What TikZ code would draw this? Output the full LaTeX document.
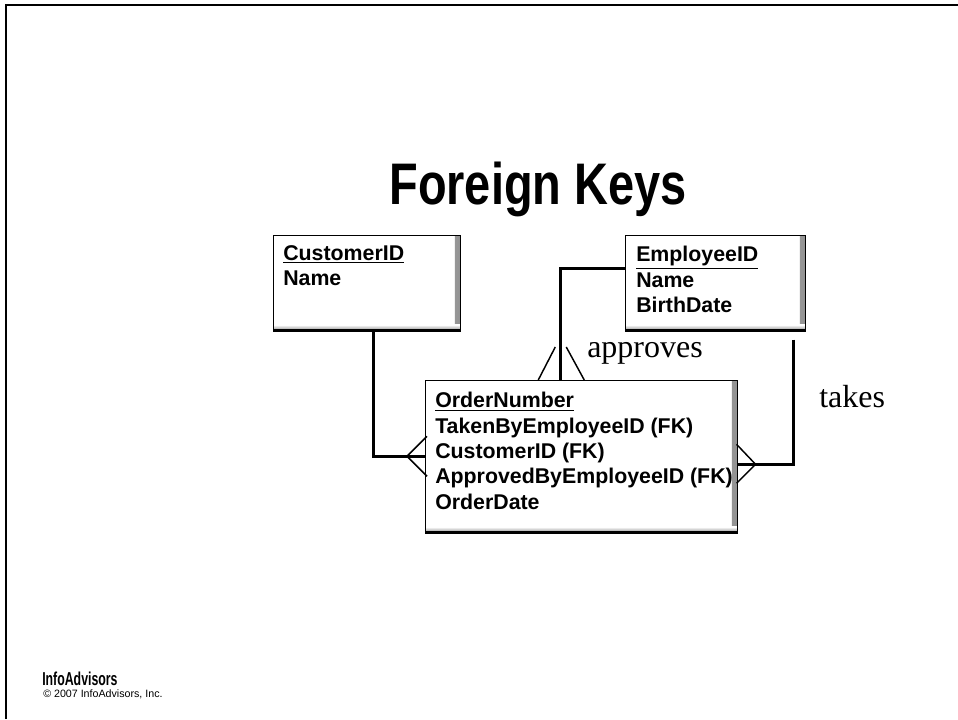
\documentclass[tikz,border=0pt]{standalone}
\usepackage{fontspec}
\setmainfont{Liberation Serif}
\newfontfamily\arialfont{Liberation Sans}
\newfontfamily\titlefont[FakeStretch=0.8]{Liberation Sans}
\newfontfamily\narrowfont[FakeStretch=0.66]{Liberation Sans}
\usepackage{tikz}
\usetikzlibrary{calc,positioning,shadings}
\tikzstyle{entity}=[draw,fill=white,thin,inner sep=0pt,anchor=north west,
  path picture={
    \shade[left color=white,right color=gray!85] ([xshift=-4pt]path picture bounding box.north east) rectangle (path picture bounding box.south east);
    \shade[top color=white,bottom color=gray!85] ([yshift=4pt]path picture bounding box.south west) rectangle (path picture bounding box.south east);
  }]
\tikzstyle{ledge}=[line width=2.4pt]
\tikzstyle{fields}=[anchor=north west,align=left,inner sep=0pt,font=\arialfont\bfseries\fontsize{16}{19}\selectfont]
\tikzstyle{rel}=[line width=2.2pt]
\tikzstyle{crow}=[line width=1.1pt]
\tikzstyle{verb}=[anchor=base west,inner sep=0pt,font=\fontsize{24}{28}\selectfont]

\begin{document}
\begin{tikzpicture}[x=0.75pt,y=-0.75pt]
\useasboundingbox (0,0) rectangle (958,719);
\draw[line width=1.8pt] (6,719) -- (6,5) -- (958,5);
\node[anchor=base,inner sep=0pt,font=\titlefont\bfseries\fontsize{44}{50}\selectfont] (title) at (538,204) {Foreign Keys};

% tables
\node[entity,minimum width=140.25pt,minimum height=71.25pt] (cust) at (273,235) {};
\node[entity,minimum width=135pt,minimum height=71.25pt] (emp) at (625,235) {};
\node[entity,minimum width=234pt,minimum height=114pt] (ord) at (425,380) {};
\draw[ledge] (cust.south west) -- (cust.south east);
\draw[ledge] (emp.south west) -- (emp.south east);
\draw[ledge] (ord.south west) -- (ord.south east);

\node[fields] (cust-f) at ([shift={(10,10)}]cust.north west) {\underline{CustomerID}\\Name};
\node[fields] (emp-f) at ([shift={(11,11)}]emp.north west) {\underline{EmployeeID}\\Name\\BirthDate};
\node[fields] (ord-f) at ([shift={(10,12)}]ord.north west) {\underline{OrderNumber}\\TakenByEmployeeID (FK)\\CustomerID (FK)\\ApprovedByEmployeeID (FK)\\OrderDate};

% relationships
\draw[rel] ([xshift=4.9pt]cust.south) |- (ord.west);
\draw[crow] ([shift={(2,-20)}]ord.west) -- ([shift={(-18,0)}]ord.west) -- ([shift={(2,20)}]ord.west);

\coordinate (apfoot) at ([xshift=-15.75pt]ord.north);
\draw[rel] ([yshift=10.9pt]emp.west) -| (apfoot);
\draw[crow] ([shift={(-5,-33)}]apfoot) -- ([shift={(-22,0)}]apfoot);
\draw[crow] ([shift={(6,-33)}]apfoot) -- ([shift={(24,0)}]apfoot);
\node[verb] (approves) at (587,357) {approves};

\coordinate (tkfoot) at ([shift={(0,8)}]ord.east);
\draw[rel] ([shift={(-12,9)}]emp.south east) |- (tkfoot);
\draw[crow] ([shift={(-1,-20)}]tkfoot) -- ([shift={(18,0)}]tkfoot) -- ([shift={(-1,19)}]tkfoot);
\node[verb] (takes) at (819,407) {takes};

% footer
\node[anchor=base west,inner sep=0pt,font=\narrowfont\bfseries\fontsize{14}{16}\selectfont] (brand) at (42,685) {InfoAdvisors};
\node[anchor=base west,inner sep=0pt,font=\arialfont\fontsize{8}{9}\selectfont] (copy) at (43,697) {\textcopyright\ 2007 InfoAdvisors, Inc.};
\end{tikzpicture}
\end{document}
